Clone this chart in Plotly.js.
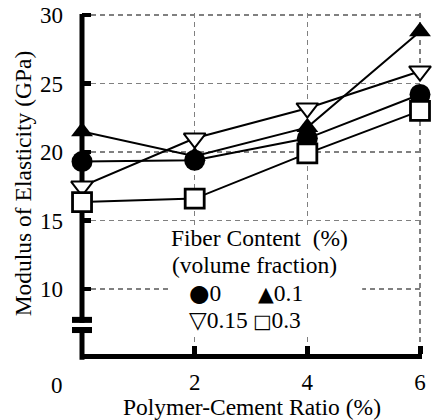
<!DOCTYPE html>
<html><head><meta charset="utf-8">
<script src="https://cdn.plot.ly/plotly-3.0.1.min.js"></script>
<style>html,body{margin:0;padding:0;background:#fff}</style>
</head><body>
<div id="chart" style="width:432px;height:420px"></div>
<script>
// ---- data ----
const ratio = [0, 2, 4, 6];
const fiber0 = [19.3, 19.4, 21.0, 24.2];
const fiber01 = [21.5, 19.7, 21.8, 28.8];
const fiber015 = [17.5, 21.0, 23.2, 25.9];
const fiber03 = [16.35, 16.6, 19.9, 23.0];
const seriesNames = ['0', '0.1', '0.15', '0.3'];
const legendGlyphs = ['●', '▲', '▽', '□'];
const legendTitle = ['Fiber Content  (%)', '(volume fraction)'];
const xTickVals = [0, 2, 4, 6];
const xTickLabels = ['0', '2', '4', '6'];
const yTickVals = [10, 15, 20, 25, 30];
const yTickLabels = ['10', '15', '20', '25', '30'];
const xTitle = 'Polymer-Cement Ratio (%)';
const yTitle = 'Modulus of Elasticity (GPa)';

const FONT = '"Liberation Serif", "Times New Roman", serif';
const lineStyle = {color: '#000', width: 2};

function tr(y, name, symbol, size, fill, lw) {
  return {
    x: ratio, y: y, name: name, type: 'scatter', mode: 'lines+markers',
    cliponaxis: false, showlegend: false,
    line: lineStyle,
    marker: {symbol: symbol, size: size, color: fill, line: {color: '#000', width: lw}}
  };
}

const data = [
  tr(fiber01, seriesNames[1], 'triangle-up', 19, '#000', 0),
  tr(fiber0, seriesNames[0], 'circle', 21, '#000', 0),
  tr(fiber015, seriesNames[2], 'triangle-down', 19, '#fff', 2),
  tr(fiber03, seriesNames[3], 'square', 19, '#fff', 2.8)
];

const txtFont = {family: FONT, size: 23.5, color: '#000'};
const annotations = [
  {text: xTickLabels[0], xref: 'x', x: xTickVals[0], xshift: -25, xanchor: 'center',
   yref: 'paper', y: 0, yanchor: 'middle', yshift: -31,
   showarrow: false, font: {family: FONT, size: 23, color: '#000'}},
  {text: legendTitle[0], xref: 'paper', x: 0.5235, xanchor: 'center', yref: 'paper', y: 0.340, yanchor: 'middle',
   showarrow: false, font: txtFont},
  {text: legendTitle[1], xref: 'paper', x: 0.506, xanchor: 'center', yref: 'paper', y: 0.261, yanchor: 'middle',
   showarrow: false, font: txtFont}
];
const legendPos = [[0.31, 0.179], [0.512, 0.179], [0.31, 0.0997], [0.497, 0.0997]];
const glyphSize = [23.5, 20.5, 23, 19.5];
[0, 1, 2, 3].forEach((k) => {
  const glyph = '<span style="font-family:\'DejaVu Sans\';font-size:' + glyphSize[k] + 'px">' + legendGlyphs[k] + '</span>';
  annotations.push({text: glyph + seriesNames[k], xref: 'paper', x: legendPos[k][0], xanchor: 'left',
    yref: 'paper', y: legendPos[k][1], yanchor: 'middle', showarrow: false, font: txtFont});
});

const shapes = [
  // y axis line
  {type: 'line', xref: 'paper', x0: 0, x1: 0, yref: 'paper', y0: -0.017, y1: 0.997,
   line: {color: '#000', width: 5}, layer: 'below'},
  // white legend box hiding grid
  {type: 'rect', xref: 'paper', yref: 'paper', x0: 0.253, x1: 0.824, y0: 0.056, y1: 0.378,
   fillcolor: '#fff', line: {width: 0}, layer: 'above'},
  // axis break
  {type: 'rect', xref: 'paper', yref: 'y', x0: -0.0118, x1: 0.0118, y0: 7.23, y1: 7.53,
   fillcolor: '#fff', line: {width: 0}, layer: 'above'},
  {type: 'rect', xref: 'paper', yref: 'y', x0: -0.0294, x1: 0.0294, y0: 7.53, y1: 7.97,
   fillcolor: '#000', line: {width: 0}, layer: 'above'},
  {type: 'rect', xref: 'paper', yref: 'y', x0: -0.0294, x1: 0.0294, y0: 6.79, y1: 7.23,
   fillcolor: '#000', line: {width: 0}, layer: 'above'}
];

const layout = {
  width: 432, height: 420,
  margin: {l: 82, r: 10, t: 13, b: 66},
  paper_bgcolor: '#fff', plot_bgcolor: 'rgba(0,0,0,0)',
  showlegend: false,
  font: {family: FONT, size: 23, color: '#000'},
  xaxis: {
    range: [-0.0005, 6.0355], tickmode: 'array', tickvals: xTickVals.slice(1), ticktext: xTickLabels.slice(1),
    showline: true, linewidth: 5, linecolor: '#000', layer: 'below traces',
    ticks: 'inside', ticklen: 8, tickwidth: 5, tickcolor: '#000', ticklabelstandoff: 3,
    showgrid: true, gridcolor: '#808080', gridwidth: 1.2, griddash: '5px,4px',
    zeroline: false, tickfont: {family: FONT, size: 23, color: '#000'},
    title: {text: xTitle, font: {family: FONT, size: 23.5, color: '#000'}, standoff: 12},
    automargin: false, fixedrange: true
  },
  yaxis: {
    range: [5.26, 30.146], tickmode: 'array', tickvals: yTickVals, ticktext: yTickLabels,
    showline: false, layer: 'below traces',
    ticks: 'inside', ticklen: 9, tickwidth: 4.5, tickcolor: '#000', ticklabelstandoff: 18,
    showgrid: true, gridcolor: '#808080', gridwidth: 1.2, griddash: '5px,4px',
    zeroline: false, tickfont: {family: FONT, size: 23, color: '#000'},
    title: {text: yTitle, font: {family: FONT, size: 23.5, color: '#000'}, standoff: 1},
    automargin: false, fixedrange: true
  },
  annotations: annotations,
  shapes: shapes
};

Plotly.newPlot('chart', data, layout, {staticPlot: true, displayModeBar: false});
</script>
</body></html>
